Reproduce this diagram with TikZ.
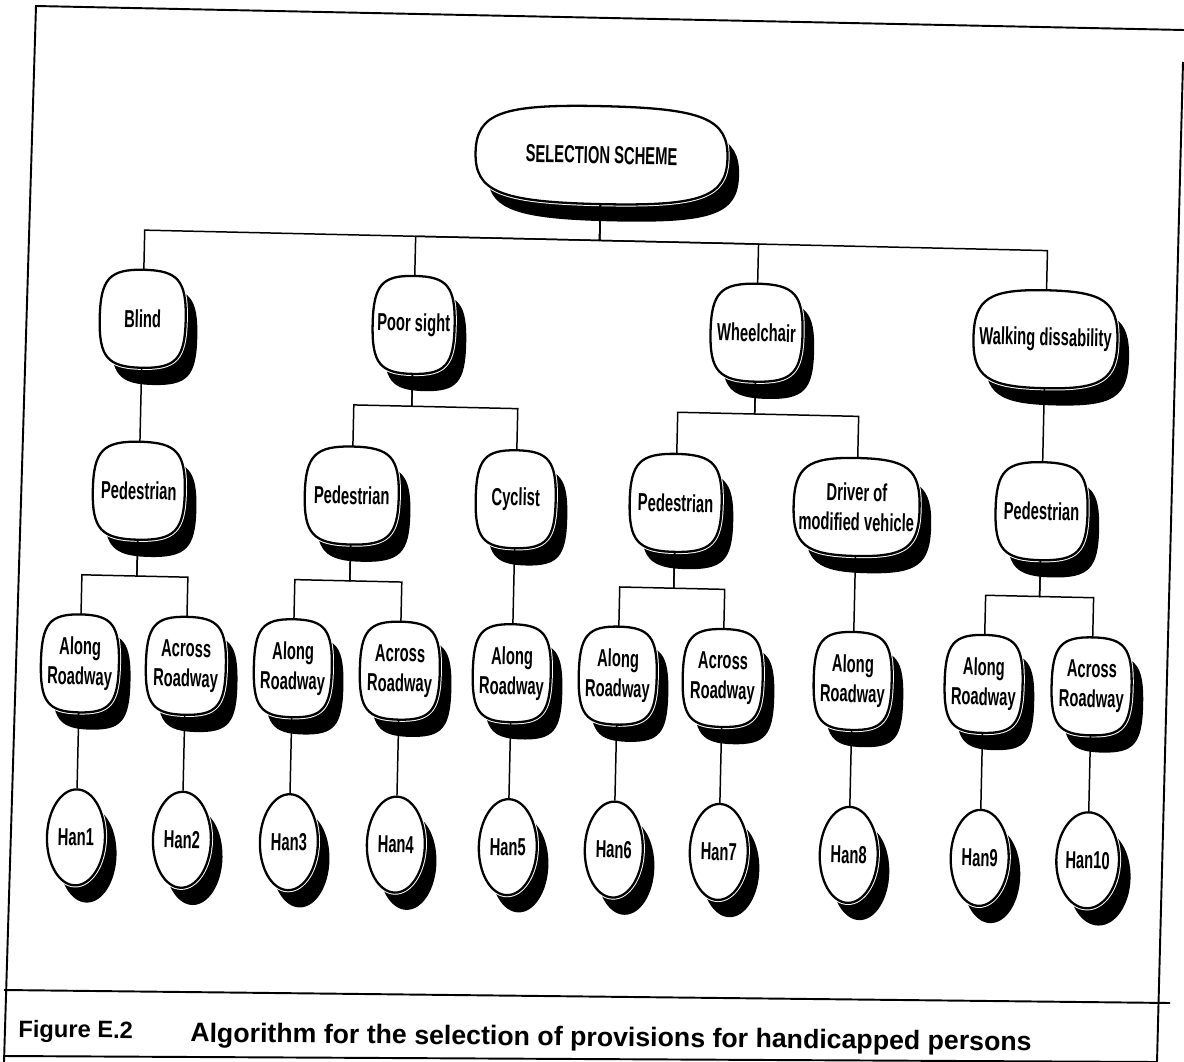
\documentclass[tikz,border=0pt]{standalone}
\usepackage{fontspec}
\setmainfont{Liberation Sans}
\newfontfamily\narrowfont{Liberation Sans}[FakeStretch=0.6]
\usetikzlibrary{shapes.geometric,shadows}

\tikzset{
  shadowed/.style={draw=black, line width=1.3pt, fill=white,
    drop shadow={shadow xshift=0.24cm, shadow yshift=-0.34cm, fill=black, opacity=1},
    preaction={draw=white, line width=2.4pt}},
  boxtext/.style={inner sep=0pt, minimum height=1.96cm, align=center,
    font=\narrowfont\bfseries\fontsize{14}{17}\selectfont},
  han/.style={shadowed, ellipse, inner sep=0pt, minimum width=1.16cm, minimum height=1.92cm,
    font=\narrowfont\bfseries\fontsize{14}{17}\selectfont},
  link/.style={line width=0.85pt},
  pageline/.style={line width=1.1pt},
  captext/.style={inner sep=0pt, anchor=west, rotate=-0.6, font=\bfseries},
  tilt/.style={transform canvas={rotate around={-1.3:(592,531)}}}
}

\begin{document}
\begin{tikzpicture}[x=0.02cm, y=-0.02cm]
\useasboundingbox (0,0) rectangle (1184,1062);

% page frame and caption
\draw[pageline] (1184,30) -- (36,6) -- (4,1062);
\draw[pageline] (1183,62) -- (1157,1062);
\draw[pageline] (4,990) -- (1170,1003);
\draw[pageline] (4,1056) -- (1157,1062);
\node[captext] (fignum) at (18,1031) {\fontsize{13.5}{16}\selectfont Figure E.2};
\node[captext] (figtitle) at (190,1035) {\fontsize{15.2}{18}\selectfont Algorithm for the selection of provisions for handicapped persons};

\begin{scope}[tilt]
% barrel shaped boxes
\foreach \nm/\cx/\cy/\hw/\txt in {
    top/593/155/126/{SELECTION SCHEME},
    blind/138/329/43/Blind,
    poor/409/329/41/{Poor sight},
    wheel/752/329/46/Wheelchair,
    walk/1041/329/72/{Walking dissability},
    ped1/138/501/46/Pedestrian,
    ped2/351/501/47/Pedestrian,
    cyc/515/501/40/Cyclist,
    ped3/675/501/46/Pedestrian,
    drv/856/501/63/{Driver of\\modified vehicle},
    ped4/1041/501/46/Pedestrian,
    road1/83/675/39/{Along\\Roadway},
    road2/189/675/40/{Across\\Roadway},
    road3/296/675/39/{Along\\Roadway},
    road4/403/675/40/{Across\\Roadway},
    road5/515/675/39/{Along\\Roadway},
    road6/621/675/39/{Along\\Roadway},
    road7/726/675/40/{Across\\Roadway},
    road8/856/675/39/{Along\\Roadway},
    road9/987/675/39/{Along\\Roadway},
    road10/1095/675/40/{Across\\Roadway}}
{
  \draw[shadowed] (\cx,\cy-49)
    .. controls (\cx+0.8*\hw,\cy-49) and (\cx+\hw,\cy-0.8*49) .. (\cx+\hw,\cy)
    .. controls (\cx+\hw,\cy+0.8*49) and (\cx+0.8*\hw,\cy+49) .. (\cx,\cy+49)
    .. controls (\cx-0.8*\hw,\cy+49) and (\cx-\hw,\cy+0.8*49) .. (\cx-\hw,\cy)
    .. controls (\cx-\hw,\cy-0.8*49) and (\cx-0.8*\hw,\cy-49) .. (\cx,\cy-49) -- cycle;
  \node[boxtext] (\nm) at (\cx,\cy) {\txt};
}

% oval end boxes
\foreach \i/\cx in {1/83,2/189,3/296,4/403,5/515,6/621,7/726,8/856,9/987,10/1095}
  \node[han] (han\i) at (\cx,849) {Han\i};

% connectors
\foreach \c in {blind,poor,wheel,walk}
  \draw[link] (top.south) -- ++(0,36) -| (\c.north);
\foreach \c in {ped2,cyc}
  \draw[link] (poor.south) -- ++(0,32) -| (\c.north);
\foreach \c in {ped3,drv}
  \draw[link] (wheel.south) -- ++(0,32) -| (\c.north);
\draw[link] (blind.south) -- (ped1.north);
\draw[link] (walk.south) -- (ped4.north);
\foreach \p/\a/\b in {ped1/road1/road2, ped2/road3/road4, ped3/road6/road7, ped4/road9/road10} {
  \draw[link] (\p.south) -- ++(0,36) -| (\a.north);
  \draw[link] (\p.south) -- ++(0,36) -| (\b.north);
}
\draw[link] (cyc.south) -- (road5.north);
\draw[link] (drv.south) -- (road8.north);
\foreach \i in {1,...,10}
  \draw[link] (road\i.south) -- (han\i.north);
\end{scope}
\end{tikzpicture}
\end{document}
